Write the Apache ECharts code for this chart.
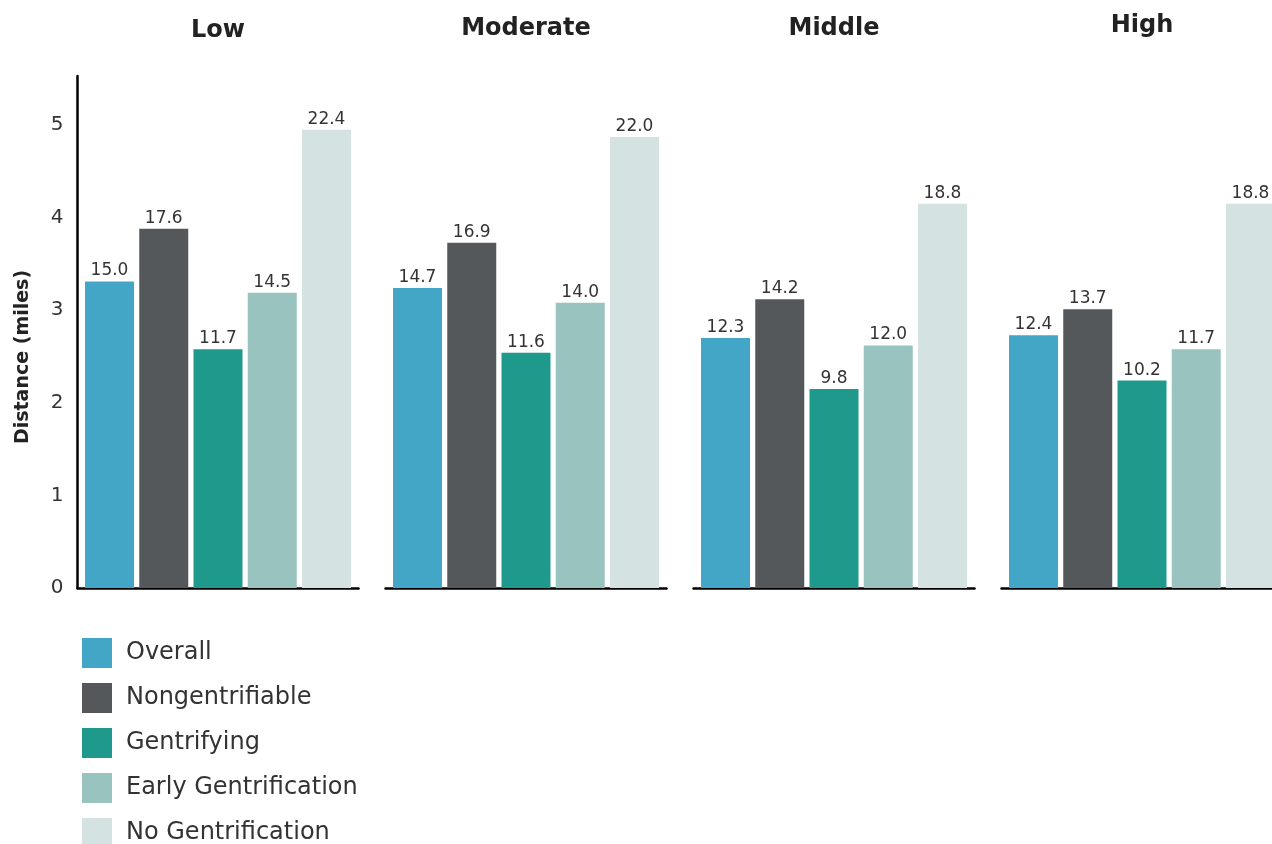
<!DOCTYPE html>
<html><head><meta charset="utf-8">
<script src="https://cdn.jsdelivr.net/npm/echarts@6/dist/echarts.min.js"></script>
<style>html,body{margin:0;padding:0;background:#fff}#chart{width:1272px;height:844px}</style>
</head><body><div id="chart"></div>
<script>
// Panels (income groups)
const panels = ['Low', 'Moderate', 'Middle', 'High'];
// Series names
const seriesNames = ['Overall', 'Nongentrifiable', 'Gentrifying', 'Early Gentrification', 'No Gentrification'];
const overall = [3.31, 3.24, 2.70, 2.73];
const nongentrifiable = [3.88, 3.73, 3.12, 3.01];
const gentrifying = [2.58, 2.54, 2.15, 2.24];
const earlyGentrification = [3.19, 3.08, 2.62, 2.58];
const noGentrification = [4.95, 4.87, 4.15, 4.15];
// Value labels printed above the bars
const overallLabels = ['15.0', '14.7', '12.3', '12.4'];
const nongentrifiableLabels = ['17.6', '16.9', '14.2', '13.7'];
const gentrifyingLabels = ['11.7', '11.6', '9.8', '10.2'];
const earlyGentrificationLabels = ['14.5', '14.0', '12.0', '11.7'];
const noGentrificationLabels = ['22.4', '22.0', '18.8', '18.8'];
// Y axis
const yMin = 0, yMax = 5.53, yInterval = 1;
const yAxisName = 'Distance (miles)';

const values = [overall, nongentrifiable, gentrifying, earlyGentrification, noGentrification];
const labels = [overallLabels, nongentrifiableLabels, gentrifyingLabels, earlyGentrificationLabels, noGentrificationLabels];
const colors = ['#43A6C6', '#54585B', '#1F998B', '#99C3BE', '#D4E3E2'];

const FONT = 'DejaVu Sans';
const gridLeft0 = 77.5, gridPitch = 308, gridWidth = 281, gridTop = 76, gridHeight = 512;
const titleTops = [19, 17, 17, 14];

const grids = [], xAxes = [], yAxes = [], series = [], titles = [];
panels.forEach((p, i) => {
  const left = gridLeft0 + gridPitch * i;
  grids.push({ left: left, top: gridTop, width: gridWidth, height: gridHeight, containLabel: false, outerBoundsMode: 'none' });
  titles.push({
    text: p, left: left + gridWidth / 2, top: titleTops[i], textAlign: 'center', padding: 0,
    textStyle: { fontFamily: FONT, fontSize: 24, fontWeight: 'bold', color: '#222' }
  });
  xAxes.push({
    type: 'category', gridIndex: i, data: [p],
    axisLine: { show: true, lineStyle: { color: '#000', width: 2.5 } },
    axisTick: { show: false }, axisLabel: { show: false }, splitLine: { show: false }
  });
  yAxes.push({
    type: 'value', gridIndex: i, min: yMin, max: yMax, interval: yInterval,
    show: i === 0,
    name: i === 0 ? yAxisName : '',
    nameLocation: 'middle', nameRotate: 90, nameGap: 45,
    nameTextStyle: { fontFamily: FONT, fontSize: 19, fontWeight: 'bold', color: '#222', padding: [0, 50, 0, 0] },
    axisLine: { show: true, lineStyle: { color: '#000', width: 2.5 } },
    axisTick: { show: false },
    splitLine: { show: false },
    axisLabel: {
      fontFamily: FONT, fontSize: 20, color: '#333', margin: 14, showMaxLabel: false,
      formatter: v => (Number.isInteger(v) ? String(v) : '')
    }
  });
  seriesNames.forEach((name, s) => {
    series.push({
      type: 'bar', name: name, xAxisIndex: i, yAxisIndex: i,
      data: [values[s][i]],
      barWidth: 49, barGap: '10.7%',
      itemStyle: { color: colors[s] },
      label: {
        show: true, position: 'top', distance: 2,
        fontFamily: FONT, fontSize: 17, color: '#333',
        formatter: () => labels[s][i]
      }
    });
  });
});

const chart = echarts.init(document.getElementById('chart'), null, { renderer: 'canvas' });
chart.setOption({
  animation: false,
  backgroundColor: '#fff',
  textStyle: { fontFamily: FONT },
  title: titles,
  grid: grids,
  xAxis: xAxes,
  yAxis: yAxes,
  legend: {
    data: seriesNames, orient: 'vertical', left: 82, top: 638, height: 260, padding: 0,
    itemWidth: 30, itemHeight: 30, itemGap: 15, icon: 'rect',
    textStyle: { fontFamily: FONT, fontSize: 24, color: '#333', padding: [0, 0, 0, 9] }
  },
  series: series
});
</script></body></html>
